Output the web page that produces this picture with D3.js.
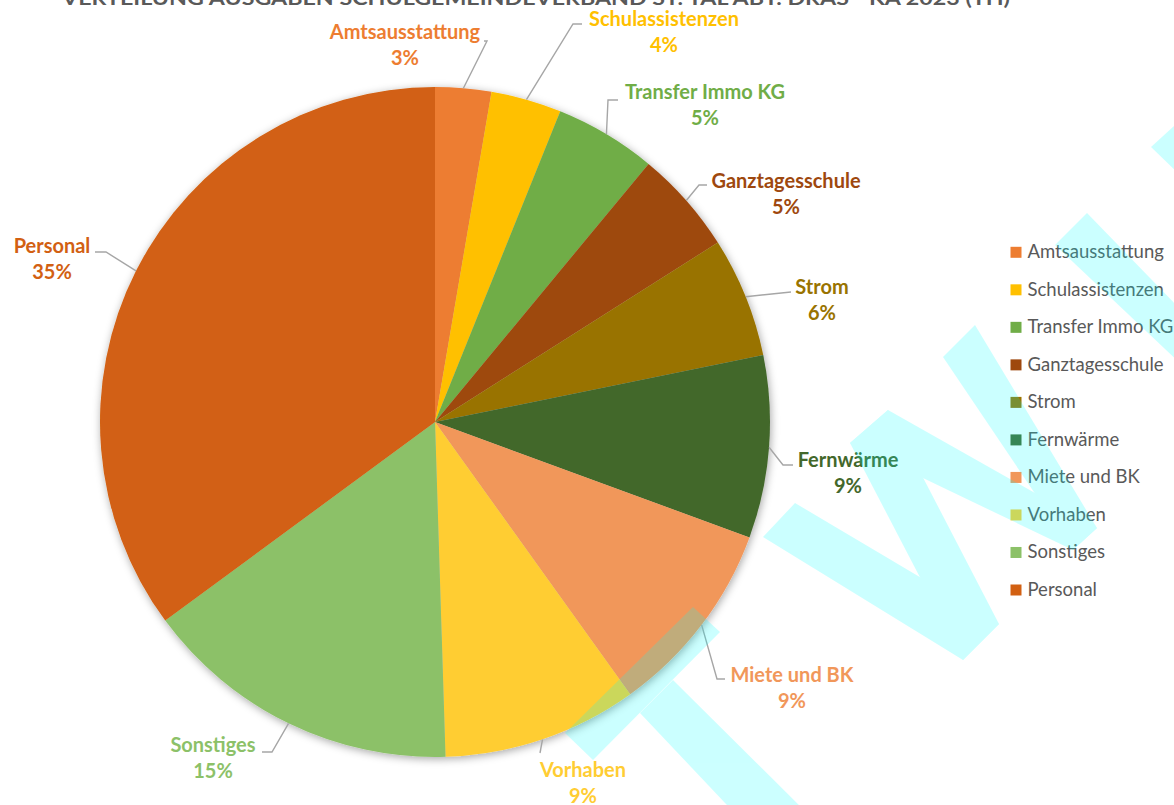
<!DOCTYPE html>
<html>
<head>
<meta charset="utf-8">
<script src="https://cdn.jsdelivr.net/npm/d3@7"></script>
<style>
  html, body { margin: 0; padding: 0; background: #ffffff; }
  svg { display: block; }
</style>
</head>
<body>
<svg id="chart" width="1174" height="805"></svg>
<script>
// ---------- data ----------
const chartTitle = "VERTEILUNG AUSGABEN SCHULGEMEINDEVERBAND ST. TAL ABT. DRAS - KA 2023 (TH)";
const categories = ["Amtsausstattung", "Schulassistenzen", "Transfer Immo KG", "Ganztagesschule", "Strom",
                    "Fernwärme", "Miete und BK", "Vorhaben", "Sonstiges", "Personal"];
const shares = [2.7, 3.4, 4.9, 5.0, 5.8, 8.8, 9.5, 9.4, 15.4, 35.1];
const percentLabels = ["3%", "4%", "5%", "5%", "6%", "9%", "9%", "9%", "15%", "35%"];
const sliceColors = ["#ed7d31", "#ffc000", "#70ad47", "#9e480e", "#997300",
                     "#43682b", "#f1975a", "#ffcd33", "#8cc168", "#d26012"];

// ---------- layout (annotation placement, not data) ----------
const cx = 435, cy = 422, radius = 335;
// label: name centre x, name baseline y, leader knee & end
const labelLayout = [
  { x: 405, y: 39,  knee: [487, 41],  end: [484, 41] },
  { x: 664, y: 26,  knee: [573, 24],  end: [582, 24] },
  { x: 705, y: 99,  knee: [608, 100], end: [618, 100] },
  { x: 786, y: 188, knee: [699, 185], end: [707, 185] },
  { x: 822, y: 294, knee: [791, 292], end: [791, 292] },
  { x: 848, y: 467, knee: [783, 465], end: [793, 465] },
  { x: 792, y: 682, knee: [717, 679], end: [725, 679] },
  { x: 583, y: 777, knee: [540, 753], end: [540, 753] },
  { x: 213, y: 752, knee: [272, 752], end: [262, 752] },
  { x: 52,  y: 253, knee: [106, 252], end: [95, 252] }
];
// watermark decoration polygons
const watermark = [
  [[763,537],[795,503],[999,624],[963,660]],
  [[850,443],[888,410],[999,624],[963,660]],
  [[850,443],[888,410],[1097,528],[1073,550]],
  [[943,357],[975,325],[1097,528],[1073,550]],
  [[1055,245],[1087,213],[1185,314],[1185,368]],
  [[1185,116],[1151,147],[1185,180]],
  [[693,607],[720,632],[593,760],[565,733]],
  [[640,713],[673,680],[812,818],[760,840]]
];

const FONT = "Lato, 'Open Sans', sans-serif";
const svg = d3.select("#chart");

// shadow filter
const defs = svg.append("defs");
const f = defs.append("filter").attr("id", "shadow")
  .attr("x", "-10%").attr("y", "-10%").attr("width", "120%").attr("height", "120%");
f.append("feDropShadow").attr("dx", 1).attr("dy", 2).attr("stdDeviation", 4)
  .attr("flood-color", "#000").attr("flood-opacity", 0.35);

// title (cut at the top)
svg.append("text")
  .attr("x", 536).attr("y", 5)
  .attr("text-anchor", "middle")
  .attr("font-family", FONT).attr("font-weight", 700).attr("font-size", 18)
  .attr("fill", "#595959")
  .attr("textLength", 948).attr("lengthAdjust", "spacingAndGlyphs")
  .text(chartTitle);

const data = categories.map((c, i) => ({ name: c, v: shares[i], color: sliceColors[i], pct: percentLabels[i], lay: labelLayout[i] }));

const pie = d3.pie().sort(null).value(d => d.v).startAngle(0).endAngle(2 * Math.PI);
const arcs = pie(data);
const arc = d3.arc().innerRadius(0).outerRadius(radius);
const edgeArc = d3.arc().innerRadius(radius).outerRadius(radius);

const g = svg.append("g").attr("transform", `translate(${cx},${cy})`);
g.append("g").attr("filter", "url(#shadow)")
  .selectAll("path").data(arcs).join("path")
  .attr("d", arc)
  .attr("fill", d => d.data.color);

// leader lines
const lines = svg.append("g");
arcs.forEach(a => {
  const s = edgeArc.centroid(a);
  const pts = [[s[0] + cx, s[1] + cy], a.data.lay.knee, a.data.lay.end];
  lines.append("path")
    .attr("d", d3.line()(pts))
    .attr("fill", "none").attr("stroke", "#a6a6a6").attr("stroke-width", 1.4);
});

// data labels
const labels = svg.append("g").attr("font-family", FONT).attr("font-weight", 700)
  .attr("font-size", 20).attr("text-anchor", "middle");
data.forEach(d => {
  labels.append("text").attr("x", d.lay.x).attr("y", d.lay.y).attr("fill", d.color).text(d.name);
  labels.append("text").attr("x", d.lay.x).attr("y", d.lay.y + 26).attr("fill", d.color).text(d.pct);
});

// legend
const legend = svg.append("g").attr("font-family", FONT).attr("font-size", 18.5).attr("fill", "#595959");
const legY = d3.scalePoint().domain(categories).range([252.3, 590]);
data.forEach(d => {
  const y = legY(d.name);
  legend.append("rect").attr("x", 1010.5).attr("y", y - 5.5).attr("width", 11).attr("height", 11).attr("fill", d.color);
  legend.append("text").attr("x", 1027.5).attr("y", y + 6).text(d.name);
});

// watermark overlay
const wm = svg.append("g").attr("opacity", 0.2);
watermark.forEach(p => {
  wm.append("polygon").attr("points", p.map(q => q.join(",")).join(" ")).attr("fill", "#00ffff");
});
</script>
</body>
</html>
